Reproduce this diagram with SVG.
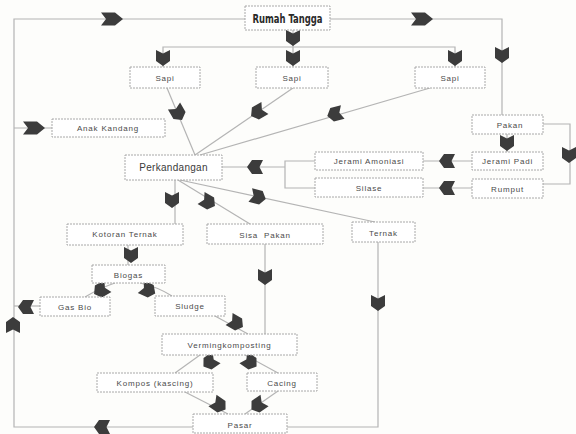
<svg xmlns="http://www.w3.org/2000/svg" width="576" height="434" viewBox="0 0 576 434">
<style>
.bg{fill:#fdfdfb}
.box{fill:#fff;stroke:#a8a8a8;stroke-width:1;stroke-dasharray:2 1}
.ln{fill:none;stroke:#b4b4b4;stroke-width:1.2}
.t{font-family:"Liberation Sans",Arial,sans-serif;font-size:8px;fill:#4a4a4a;text-anchor:middle;letter-spacing:0.8px}
.tb{font-family:"Liberation Sans",Arial,sans-serif;font-size:10px;fill:#3a3a3a;text-anchor:middle;letter-spacing:0.3px}
.th{font-family:"DejaVu Sans Condensed","Liberation Sans",sans-serif;font-size:12px;font-weight:bold;fill:#2a2a2a;text-anchor:middle}
.ar{fill:#3c3c3c}
</style>
<defs>
<polygon id="ah" class="ar" points="-11,-6.5 3,-6.5 11,0 3,6.5 -11,6.5 -6,0"/>
<polygon id="as" class="ar" points="-8,-7 3,-7 8,0 3,7 -8,7 -4.5,0"/>
</defs>
<rect class="bg" x="0" y="0" width="576" height="434"/>
<g id="connectors">
<polyline class="ln" points="245,19 14,19 14,427 193,427"/>
<polyline class="ln" points="330,19 502,19 502,115"/>
<line class="ln" x1="293" y1="30" x2="293" y2="47"/>
<polyline class="ln" points="163,67 163,47 455,47 455,67"/>
<line class="ln" x1="293" y1="47" x2="293" y2="67"/>
<line class="ln" x1="14" y1="128" x2="52" y2="128"/>
<line class="ln" x1="167" y1="88" x2="195" y2="155"/>
<line class="ln" x1="293" y1="88" x2="195" y2="155"/>
<line class="ln" x1="430" y1="88" x2="200" y2="155"/>
<polyline class="ln" points="222,167 285,167"/>
<polyline class="ln" points="315,161 285,161 285,188 315,188"/>
<line class="ln" x1="423" y1="161" x2="472" y2="161"/>
<line class="ln" x1="423" y1="188" x2="472" y2="188"/>
<line class="ln" x1="507" y1="134" x2="507" y2="152"/>
<polyline class="ln" points="543,124 570,124 570,184 543,184"/>
<line class="ln" x1="175" y1="180" x2="175" y2="224"/>
<line class="ln" x1="178" y1="180" x2="250" y2="224"/>
<line class="ln" x1="180" y1="180" x2="375" y2="222"/>
<line class="ln" x1="128" y1="245" x2="128" y2="265"/>
<path class="ln" d="M115,283 Q100,288 85,297"/>
<path class="ln" d="M140,283 Q158,287 172,296"/>
<line class="ln" x1="40" y1="306" x2="14" y2="306"/>
<line class="ln" x1="215" y1="316" x2="248" y2="334"/>
<line class="ln" x1="265" y1="244" x2="265" y2="334"/>
<polyline class="ln" points="378,242 378,427 287,427"/>
<line class="ln" x1="200" y1="355" x2="175" y2="373"/>
<line class="ln" x1="245" y1="355" x2="278" y2="373"/>
<line class="ln" x1="185" y1="392" x2="228" y2="414"/>
<line class="ln" x1="278" y1="391" x2="245" y2="414"/>
<use href="#ah" transform="translate(112,19)"/>
<use href="#ah" transform="translate(422,19)"/>
<use href="#as" transform="translate(293,38) rotate(90)"/>
<use href="#as" transform="translate(163,58) rotate(90)"/>
<use href="#as" transform="translate(293,58) rotate(90)"/>
<use href="#as" transform="translate(455,58) rotate(90)"/>
<use href="#as" transform="translate(502,55) rotate(90)"/>
<use href="#ah" transform="translate(34,128)"/>
<use href="#as" transform="translate(178,113) rotate(60)"/>
<use href="#as" transform="translate(258,112) rotate(150)"/>
<use href="#as" transform="translate(335,114) rotate(165)"/>
<use href="#as" transform="translate(255,167) rotate(180)"/>
<use href="#as" transform="translate(447,161) rotate(180)"/>
<use href="#as" transform="translate(447,188) rotate(180)"/>
<use href="#as" transform="translate(507,143) rotate(90)"/>
<use href="#as" transform="translate(569,155) rotate(90)"/>
<use href="#as" transform="translate(172,200) rotate(90)"/>
<use href="#as" transform="translate(208,202) rotate(30)"/>
<use href="#as" transform="translate(258,197) rotate(15)"/>
<use href="#as" transform="translate(131,255) rotate(90)"/>
<use href="#as" transform="translate(101,290) rotate(150)"/>
<use href="#as" transform="translate(148,290) rotate(25)"/>
<use href="#as" transform="translate(26,307) rotate(180)"/>
<use href="#as" transform="translate(13,325) rotate(-90)"/>
<use href="#as" transform="translate(236,323) rotate(30)"/>
<use href="#as" transform="translate(265,277) rotate(90)"/>
<use href="#as" transform="translate(378,303) rotate(90)"/>
<use href="#as" transform="translate(210,362) rotate(145)"/>
<use href="#as" transform="translate(250,362) rotate(35)"/>
<use href="#as" transform="translate(219,405) rotate(35)"/>
<use href="#as" transform="translate(258,405) rotate(145)"/>
<use href="#as" transform="translate(102,427) rotate(180)"/>
</g>
<g id="rumah"><rect class="box" x="245" y="6" width="85" height="24"/><text class="th" x="287.5" y="22.5" textLength="70" lengthAdjust="spacingAndGlyphs">Rumah Tangga</text></g>
<g id="sapi1"><rect class="box" x="130" y="67" width="70" height="21"/><text class="t" x="165" y="81" font-size="9" letter-spacing="2">Sapi</text></g>
<g id="sapi2"><rect class="box" x="256" y="67" width="72" height="21"/><text class="t" x="292" y="81" font-size="9" letter-spacing="2">Sapi</text></g>
<g id="sapi3"><rect class="box" x="415" y="67" width="70" height="21"/><text class="t" x="450" y="81" font-size="9" letter-spacing="2">Sapi</text></g>
<g id="anak"><rect class="box" x="52" y="119" width="113" height="18"/><text class="t" x="108" y="131">Anak Kandang</text></g>
<g id="perkandangan"><rect class="box" x="125" y="155" width="97" height="25"/><text class="tb" x="173.5" y="171">Perkandangan</text></g>
<g id="jerami-amoniasi"><rect class="box" x="315" y="152" width="108" height="18"/><text class="t" x="369" y="164" font-size="7" letter-spacing="0.3">Jerami Amoniasi</text></g>
<g id="silase"><rect class="box" x="315" y="178" width="108" height="19"/><text class="t" x="369" y="191" letter-spacing="1.2">Silase</text></g>
<g id="pakan"><rect class="box" x="472" y="115" width="71" height="19"/><text class="t" x="510" y="128" font-size="9" letter-spacing="1.5">Pakan</text></g>
<g id="jerami-padi"><rect class="box" x="472" y="152" width="71" height="18"/><text class="t" x="507.5" y="164" font-size="7" letter-spacing="0.3">Jerami Padi</text></g>
<g id="rumput"><rect class="box" x="472" y="179" width="71" height="19"/><text class="t" x="507.5" y="192">Rumput</text></g>
<g id="kotoran"><rect class="box" x="67" y="224" width="116" height="21"/><text class="t" x="125" y="237" font-size="7" letter-spacing="0.3">Kotoran Ternak</text></g>
<g id="sisa-pakan"><rect class="box" x="207" y="224" width="116" height="20"/><text class="t" x="265" y="237.5" font-size="9" letter-spacing="1.5" xml:space="preserve">Sisa  Pakan</text></g>
<g id="ternak"><rect class="box" x="352" y="222" width="63" height="20"/><text class="t" x="383.5" y="235.5">Ternak</text></g>
<g id="biogas"><rect class="box" x="92" y="265" width="73" height="18"/><text class="t" x="128.5" y="277.5" font-size="9" letter-spacing="1.2">Biogas</text></g>
<g id="gas-bio"><rect class="box" x="40" y="297" width="70" height="19"/><text class="t" x="75" y="310">Gas Bio</text></g>
<g id="sludge"><rect class="box" x="155" y="296" width="70" height="20"/><text class="t" x="190" y="309">Sludge</text></g>
<g id="vermi"><rect class="box" x="162" y="334" width="135" height="21"/><text class="t" x="229.5" y="347.5" font-size="7.5" letter-spacing="0.3">Vermingkomposting</text></g>
<g id="kompos"><rect class="box" x="97" y="373" width="116" height="19"/><text class="t" x="155" y="386" font-size="7.5" letter-spacing="0.3">Kompos (kascing)</text></g>
<g id="cacing"><rect class="box" x="247" y="373" width="70" height="18"/><text class="t" x="282" y="385.5">Cacing</text></g>
<g id="pasar"><rect class="box" x="193" y="414" width="94" height="19"/><text class="t" x="240" y="427.5" font-size="9" letter-spacing="1.5">Pasar</text></g>
</svg>
